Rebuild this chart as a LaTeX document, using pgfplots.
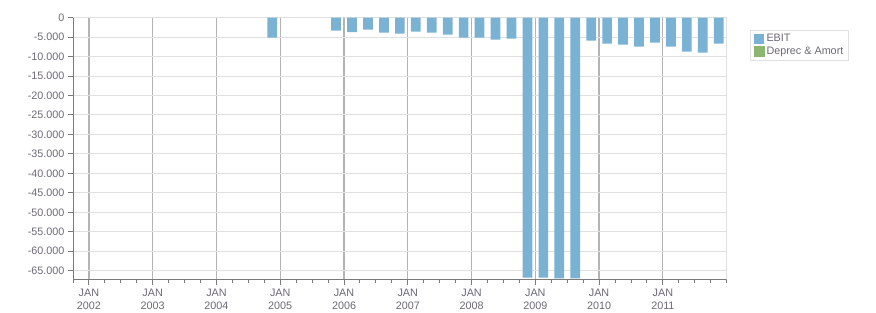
\documentclass[border=0pt]{standalone}
\usepackage{fontspec}
\setmainfont{Liberation Sans}
\usepackage{pgfplots}
\pgfplotsset{compat=1.18}
\definecolor{barblue}{HTML}{7AB2D4}
\definecolor{bargreen}{HTML}{8DB56F}
\definecolor{txt}{RGB}{108,104,118}
\definecolor{gridlt}{HTML}{E0E0E0}
\definecolor{griddk}{HTML}{B4B4B4}
\definecolor{axisc}{HTML}{7A7A7A}
\pgfplotstableread{
x y
2004.875 -5140
2005.875 -3340
2006.125 -3680
2006.375 -3080
2006.625 -3850
2006.875 -4110
2007.125 -3600
2007.375 -3850
2007.625 -4370
2007.875 -5140
2008.125 -5140
2008.375 -5650
2008.625 -5400
2008.875 -66800
2009.125 -66800
2009.375 -67000
2009.625 -67000
2009.875 -5910
2010.125 -6680
2010.375 -6940
2010.625 -7450
2010.875 -6420
2011.125 -7450
2011.375 -8740
2011.625 -8990
2011.875 -6680
}\ebit
\begin{document}
\begin{tikzpicture}
\path[use as bounding box] (0,0) rectangle (876bp,313bp);
\begin{axis}[
  at={(73bp,33.3bp)}, anchor=south west,
  scale only axis, width=653.7bp, height=262bp,
  xmin=2001.75, xmax=2012, ymin=-67320, ymax=0,
  axis line style={gridlt, line width=1bp},
  xtick={2002,...,2011},
  xticklabels={JAN\\2002,JAN\\2003,JAN\\2004,JAN\\2005,JAN\\2006,JAN\\2007,JAN\\2008,JAN\\2009,JAN\\2010,JAN\\2011},
  minor xtick={2001.75,2002,...,2012},
  ytick={-65000,-60000,...,0},
  scaled y ticks=false,
  xtick pos=bottom, ytick pos=left,
  tick align=outside,
  major tick length=5bp, minor tick length=3bp,
  every tick/.style={axisc, line width=1bp},
  xmajorgrids, ymajorgrids,
  x grid style={griddk, line width=1.2bp},
  y grid style={gridlt, line width=1bp},
  /pgf/number format/assume math mode=true,
  yticklabel style={/pgf/number format/fixed, /pgf/number format/precision=0, /pgf/number format/1000 sep={.}},
  ticklabel style={font=\fontsize{10.8bp}{12.5bp}\selectfont, text=txt},
  xticklabel style={align=center, yshift=-1bp},
  legend style={at={(1.0357,0.953)}, anchor=north west, draw=gridlt, line width=1bp,
    font=\fontsize{10.8bp}{12.5bp}\selectfont, text=txt, inner xsep=3bp, inner ysep=2bp,
    row sep=0bp},
  legend cell align=left,
]
\addplot[ybar, bar width=0.152, fill=barblue, draw=none,
  legend image code/.code={\fill[barblue] (0bp,-5bp) rectangle (10bp,5bp);}] table {\ebit};
\addlegendentry{EBIT}
\addlegendimage{legend image code/.code={\fill[bargreen] (0bp,-5bp) rectangle (10bp,5bp);}}
\addlegendentry{Deprec \& Amort}
\draw[axisc, line width=2bp] (rel axis cs:0,1) -- (rel axis cs:0,0) -- (rel axis cs:1,0);
\end{axis}
\end{tikzpicture}
\end{document}
